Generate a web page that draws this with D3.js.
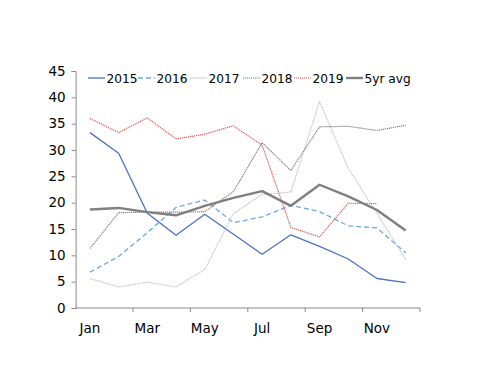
<!DOCTYPE html>
<html><head><meta charset="utf-8">
<script src="https://cdn.jsdelivr.net/npm/d3@7"></script>
<style>body{margin:0;background:#fff}svg{display:block}text{font-family:"DejaVu Sans",sans-serif}</style>
</head><body>
<svg id="c" width="500" height="386"></svg>
<script>
const months = ["Jan","Feb","Mar","Apr","May","Jun","Jul","Aug","Sep","Oct","Nov","Dec"];
const yTicks = [0,5,10,15,20,25,30,35,40,45];
const s2015 = [33.3,29.4,18.0,13.8,17.8,14.0,10.2,13.9,11.7,9.3,5.6,4.8];
const s2016 = [6.8,9.8,14.3,19.1,20.5,16.2,17.3,19.5,18.3,15.6,15.2,10.5];
const s2017 = [5.6,4.0,4.9,4.0,7.3,17.9,21.6,22.0,39.2,26.5,18.0,9.2];
const s2018 = [11.3,18.1,18.2,18.2,18.3,22.1,31.4,26.1,34.4,34.5,33.7,34.7];
const s2019 = [36.0,33.3,36.1,32.1,33.0,34.6,30.9,15.3,13.5,19.9,19.8,null];
const sAvg  = [18.7,19.0,18.2,17.6,19.4,20.9,22.2,19.4,23.4,21.2,18.6,14.7];
const seriesNames = ["2015","2016","2017","2018","2019","5yr avg"];

const series = [
  {name:seriesNames[0], v:s2015, color:"#4a72c0", w:1.3, dash:null},
  {name:seriesNames[1], v:s2016, color:"#6fa8e0", w:1.3, dash:"5,3"},
  {name:seriesNames[2], v:s2017, color:"#cacaca", w:1.3, dash:"1.5,0.8"},
  {name:seriesNames[3], v:s2018, color:"#808080", w:1.2, dash:"1.2,0.8"},
  {name:seriesNames[4], v:s2019, color:"#e05a5a", w:1.2, dash:"1.2,0.8"},
  {name:seriesNames[5], v:sAvg,  color:"#7f7f7f", w:2.4, dash:null}
];

const svg = d3.select("#c");
const x = d3.scaleBand().domain(months).range([75.6, 420]);
const y = d3.scaleLinear().domain([0,45]).range([308,71]);

// y axis
const yAxis = svg.append("g").attr("transform","translate(75.6,0)")
  .call(d3.axisLeft(y).tickValues(yTicks).tickSize(4).tickPadding(6).tickFormat(d3.format("d")));
yAxis.select(".domain").attr("stroke","#888");
yAxis.selectAll(".tick line").attr("stroke","#888");
yAxis.selectAll("text").attr("font-size","13.5px").attr("fill","#000");

// x axis
const xg = svg.append("g").attr("transform","translate(0,308)");
xg.append("line").attr("x1",75.6).attr("x2",420).attr("stroke","#888");
const tickCats = months.filter((m,i)=>i%2===0);
xg.selectAll("line.t").data(tickCats.slice(1).concat(["END"])).enter().append("line")
  .attr("x1",d=>d==="END"?420:x(d)).attr("x2",d=>d==="END"?420:x(d))
  .attr("y1",0).attr("y2",4).attr("stroke","#888");
xg.selectAll("text").data(tickCats).enter().append("text")
  .attr("x",d=>x(d)+x.bandwidth()/2).attr("y",25).attr("text-anchor","middle")
  .attr("font-size","13.5px").text(d=>d);

// lines
const line = d3.line().defined(d=>d.v!=null)
  .x(d=>x(d.m)+x.bandwidth()/2).y(d=>y(d.v));
series.forEach(s=>{
  svg.append("path").datum(months.map((m,i)=>({m:m,v:s.v[i]})))
    .attr("d",line).attr("fill","none").attr("stroke",s.color)
    .attr("stroke-width",s.w).attr("stroke-dasharray",s.dash)
    .attr("stroke-linejoin","round");
});

// legend
const legX = [88,138,190,243,294,346];
const lg = svg.append("g");
series.forEach((s,i)=>{
  lg.append("line").attr("x1",legX[i]).attr("x2",legX[i]+17).attr("y1",78).attr("y2",78)
    .attr("stroke",s.color).attr("stroke-width",s.w).attr("stroke-dasharray",s.dash);
  lg.append("text").attr("x",legX[i]+18.5).attr("y",83).attr("font-size","12.2px").text(s.name);
});
</script>
</body></html>
